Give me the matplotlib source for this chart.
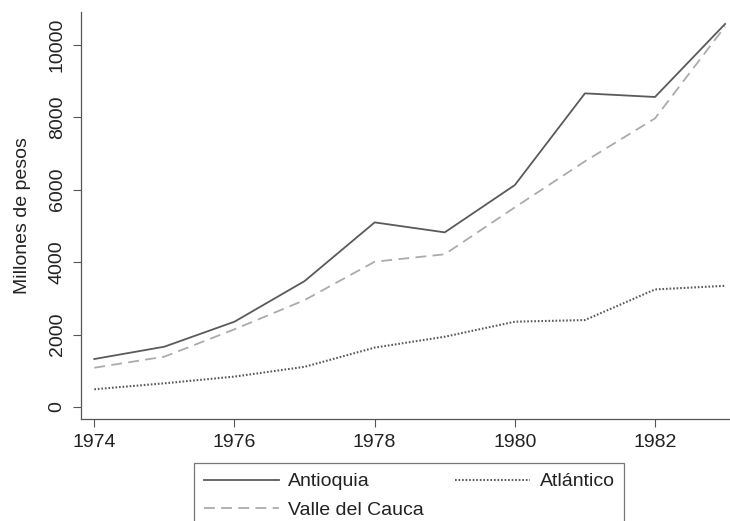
import matplotlib.pyplot as plt

plt.rcParams['font.family'] = ['Liberation Sans', 'DejaVu Sans']

years = [1974, 1975, 1976, 1977, 1978, 1979, 1980, 1981, 1982, 1983]
antioquia = [1325, 1665, 2355, 3475, 5095, 4820, 6125, 8655, 8555, 10570]
valle = [1085, 1390, 2145, 2950, 4010, 4215, 5510, 6780, 7965, 10500]
atlantico = [490, 655, 840, 1110, 1640, 1940, 2355, 2400, 3245, 3345]

xticks = [1974, 1976, 1978, 1980, 1982]
yticks = [0, 2000, 4000, 6000, 8000, 10000]

fig = plt.figure(figsize=(7.3, 5.21), dpi=100)
ax = fig.add_axes([81/730, 1 - 419/521, 649/730, 407/521])

l1, = ax.plot(years, antioquia, color='#5a5a5a', lw=1.3, ls='-', label='Antioquia')
l2, = ax.plot(years, valle, color='#ababab', lw=1.3, ls=(0, (6, 3.5)), label='Valle del Cauca')
l3, = ax.plot(years, atlantico, color='#5a5a5a', lw=1.5, ls=(0, (0.8, 0.9)), label='Atlántico')

ax.set_xlim(1973.81, 1983.07)
ax.set_ylim(-330, 10900)
ax.set_xticks(xticks)
ax.set_yticks(yticks)
ax.set_yticklabels([str(v) for v in yticks], rotation=90, va='center')
ax.tick_params(axis='both', labelsize=14, length=6, width=0.8, color='#555555', labelcolor='#222222')
ax.tick_params(axis='x', pad=5)
ax.tick_params(axis='y', pad=5)
for s in ['top', 'right']:
    ax.spines[s].set_visible(False)
for s in ['left', 'bottom']:
    ax.spines[s].set_color('#555555')
    ax.spines[s].set_linewidth(0.9)
ax.set_ylabel('Millones de pesos', fontsize=14, color='#222222', labelpad=13)

leg = fig.legend(handles=[l1, l2, l3], ncol=2, loc='upper left',
                 bbox_to_anchor=(194/730, 1 - 463/521), borderaxespad=0,
                 fontsize=14, handlelength=3.85, columnspacing=1.6, handletextpad=0.5,
                 labelspacing=0.55, borderpad=0.5, fancybox=False, frameon=True)
leg.get_frame().set_edgecolor('#555555')
leg.get_frame().set_linewidth(0.9)
for t in leg.get_texts():
    t.set_color('#222222')

fig.savefig('out.png', dpi=100)
